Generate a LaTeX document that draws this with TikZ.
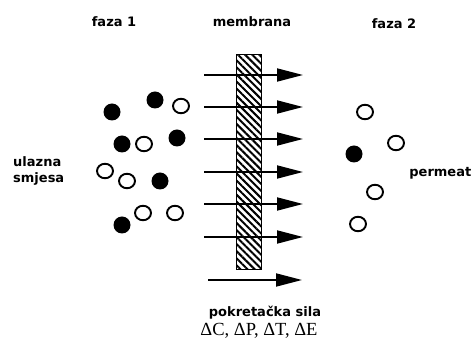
\documentclass[tikz,border=0pt]{standalone}
\usepackage{fontspec}
\setmainfont{DejaVu Sans}
\newfontfamily\serifdelta{Liberation Serif}
\usetikzlibrary{arrows.meta,patterns.meta,shapes.geometric}
\begin{document}
\begin{tikzpicture}[x=1pt,y=-1pt,
  lbl/.style={font=\fontsize{13}{16}\selectfont\bfseries, inner sep=0pt, text=black},
  full/.style={circle, fill=black, minimum size=17pt, inner sep=0pt},
  empty/.style={ellipse, draw=black, line width=1.9pt, minimum width=16pt, minimum height=14.5pt, inner sep=0pt},
  flow/.style={line width=1.8pt, -{Triangle[length=26pt,width=13pt]}},
  membr/.style={draw=black, line width=0.8pt, pattern={Lines[angle=-45,distance=5pt,line width=2pt]}, inner sep=0pt, minimum width=25pt, minimum height=215pt}
]
\clip (0,0) rectangle (472,347);
% membrane
\node[membr] (mem) at (248.8,162) {};
% arrows
\foreach \i/\y in {1/75,2/107,3/139,4/172,5/204,6/237}{
  \coordinate (s\i) at (204,\y);
  \coordinate (e\i) at (303,\y);
  \draw[flow] (s\i) -- (e\i);
}
\coordinate (sf) at (208,280);
\coordinate (ef) at (302,280);
\draw[flow] (sf) -- (ef);
% labels
\node[lbl] (f1) at (114,22) {faza 1};
\node[lbl] (mb) at (252,22) {membrana};
\node[lbl] (f2) at (394,24) {faza 2};
\node[lbl, align=left, anchor=west] (ul) at (13,171) {ulazna\\smjesa};
\node[lbl, anchor=east] (pm) at (471.5,173) {permeat};
\node[lbl] (ps) at (265,313) {pokretačka sila};
\node[inner sep=0pt, font=\serifdelta\fontsize{18.5}{20}\selectfont] (dl) at (259,331) {ΔC, ΔP, ΔT, ΔE};
% left particles
\node[full] (a1) at (112,112) {};
\node[full] (a2) at (155,100) {};
\node[empty] (a3) at (181,106) {};
\node[full] (a4) at (122,144) {};
\node[empty] (a5) at (144,144) {};
\node[full] (a6) at (177,138) {};
\node[empty] (a7) at (105,171) {};
\node[empty] (a8) at (127,181) {};
\node[full] (a9) at (160,181) {};
\node[empty] (a10) at (143,213) {};
\node[empty] (a11) at (175,213) {};
\node[full] (a12) at (122,225) {};
% right particles
\node[empty] (b1) at (365,112) {};
\node[empty] (b2) at (396,143) {};
\node[full] (b3) at (354,154) {};
\node[empty] (b4) at (375,192) {};
\node[empty] (b5) at (358,224) {};
\end{tikzpicture}
\end{document}
